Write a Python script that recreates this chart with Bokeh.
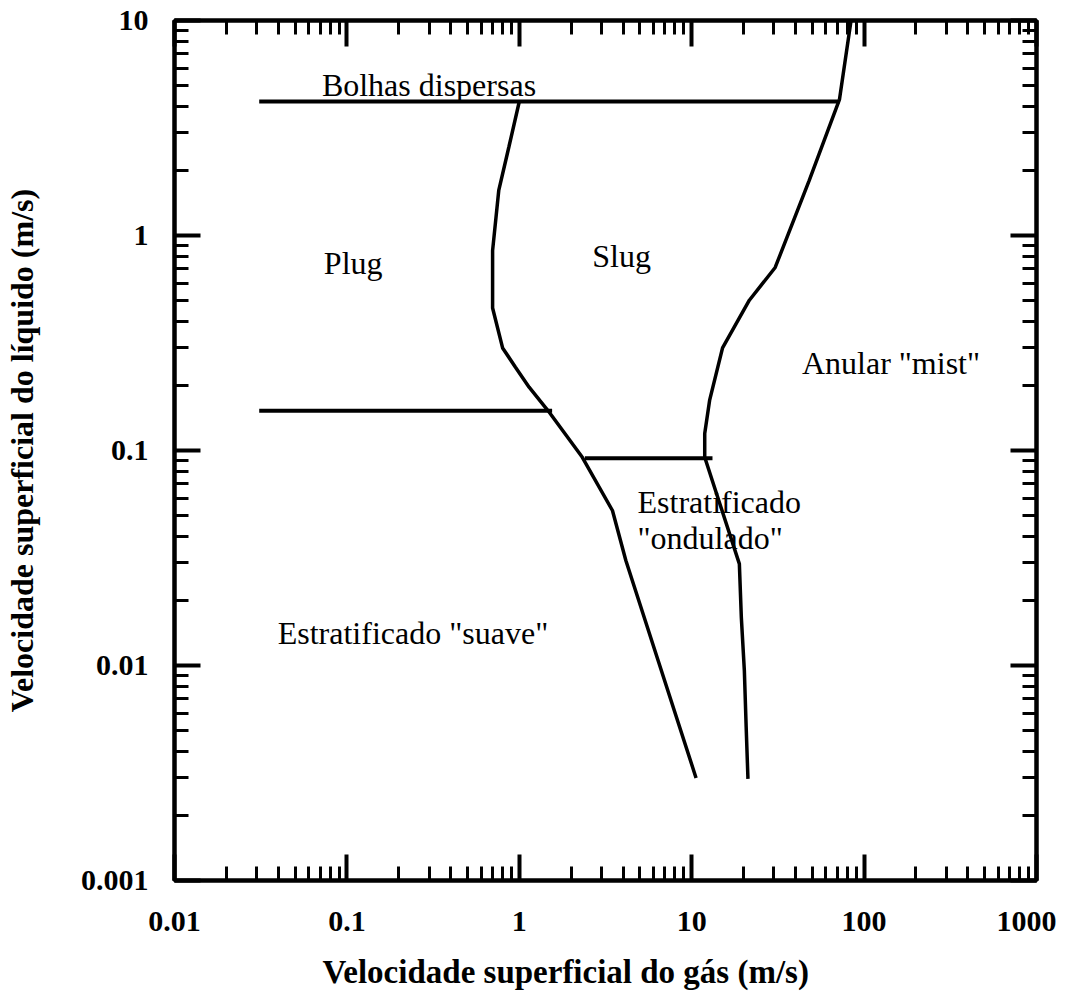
from bokeh.plotting import figure
from bokeh.models import LogAxis, FixedTicker, CustomJSTickFormatter, Title, Range1d
from bokeh.core.properties import value
from bokeh.embed import file_html
from bokeh.resources import INLINE

# ---- axes ----
x_ticks = [0.01, 0.1, 1, 10, 100, 1000]
x_tick_labels = ["0.01", "0.1", "1", "10", "100", "1000"]
y_ticks = [0.001, 0.01, 0.1, 1, 10]
y_tick_labels = ["0.001", "0.01", "0.1", "1", "10"]
x_minor = [0.02, 0.03, 0.04, 0.05, 0.06, 0.07, 0.08, 0.09,
           0.2, 0.3, 0.4, 0.5, 0.6, 0.7, 0.8, 0.9,
           2, 3, 4, 5, 6, 7, 8, 9,
           20, 30, 40, 50, 60, 70, 80, 90,
           200, 300, 400, 500, 600, 700, 800, 900]
y_minor = [0.002, 0.003, 0.004, 0.005, 0.006, 0.007, 0.008, 0.009,
           0.02, 0.03, 0.04, 0.05, 0.06, 0.07, 0.08, 0.09,
           0.2, 0.3, 0.4, 0.5, 0.6, 0.7, 0.8, 0.9,
           2, 3, 4, 5, 6, 7, 8, 9]

x_title = "Velocidade superficial do gás (m/s)"
y_title = "Velocidade superficial do líquido (m/s)"

# ---- boundaries (superficial gas velocity, superficial liquid velocity) ----
left_x = [1.0, 0.87, 0.76, 0.70, 0.70, 0.80, 0.95, 1.14, 1.47, 2.32, 3.47, 4.15, 6.4, 10.6]
left_y = [4.2, 2.58, 1.62, 0.85, 0.46, 0.30, 0.244, 0.197, 0.153, 0.093, 0.0526, 0.0308, 0.0105, 0.0030]

right_x = [84, 72, 48, 30.5, 21.6, 15.1, 12.7, 11.9, 11.9, 18.9, 19.4, 20.2, 20.7, 21.2]
right_y = [10, 4.3, 1.80, 0.71, 0.50, 0.30, 0.171, 0.120, 0.093, 0.0297, 0.0168, 0.0095, 0.00516, 0.00297]

bubble_x = [0.031, 72]
bubble_y = [4.2, 4.2]

plug_x = [0.031, 1.55]
plug_y = [0.153, 0.153]

wavy_x = [2.4, 13.2]
wavy_y = [0.092, 0.092]

# ---- region labels ----
label_text = ["Bolhas dispersas", "Plug", "Slug", "Anular \"mist\"",
              "Estratificado", "\"ondulado\"", "Estratificado \"suave\""]
label_x = [0.0716, 0.0735, 2.65, 43.6, 4.85, 4.85, 0.0397]
label_y = [4.99, 0.748, 0.807, 0.254, 0.0573, 0.039, 0.01422]

SERIF = "Liberation Serif"

p = figure(x_axis_type="log", y_axis_type="log",
           x_range=Range1d(0.01, 1000), y_range=Range1d(0.001, 10),
           frame_width=862, frame_height=860,
           min_border_left=173, min_border_right=20, min_border_top=20, min_border_bottom=10,
           output_backend="svg", toolbar_location=None, title=None)
p.background_fill_color = "white"
p.border_fill_color = "white"
p.xgrid.visible = False
p.ygrid.visible = False
p.outline_line_color = "black"
p.outline_line_width = 4


def style_axis(ax, ticks, minor, labels, show):
    ax.ticker = FixedTicker(ticks=ticks, minor_ticks=minor)
    if show:
        mapping = {str(t): l for t, l in zip(ticks, labels)}
        ax.formatter = CustomJSTickFormatter(args=dict(labels=mapping),
                                             code="const k = tick.toString(); return (k in labels) ? labels[k] : k;")
        ax.major_label_text_font = SERIF
        ax.major_label_text_font_style = "bold"
        ax.major_label_text_font_size = "30px"
        ax.major_label_text_color = "black"
    else:
        ax.formatter = CustomJSTickFormatter(code="return '';")
        ax.major_label_text_font_size = "0px"
        ax.major_label_standoff = 0
    ax.axis_line_width = 4
    ax.axis_line_color = "black"
    ax.major_tick_in = 26
    ax.major_tick_out = 0
    ax.minor_tick_in = 14
    ax.minor_tick_out = 0
    ax.major_tick_line_width = 4
    ax.minor_tick_line_width = 3
    ax.major_tick_line_color = "black"
    ax.minor_tick_line_color = "black"


xa = p.xaxis[0]
ya = p.yaxis[0]
style_axis(xa, x_ticks, x_minor, x_tick_labels, True)
style_axis(ya, y_ticks, y_minor, y_tick_labels, True)
xa.major_label_standoff = 31
ya.major_label_standoff = 26

ya.axis_label = y_title
ya.axis_label_text_font = SERIF
ya.axis_label_text_font_style = "bold"
ya.axis_label_text_font_size = "32px"
ya.axis_label_text_color = "black"
ya.axis_label_standoff = 38

top = LogAxis()
style_axis(top, x_ticks, x_minor, x_tick_labels, False)
p.add_layout(top, "above")
right = LogAxis()
style_axis(right, y_ticks, y_minor, y_tick_labels, False)
p.add_layout(right, "right")

xt = Title(text=x_title, align="left", offset=148, text_font=SERIF,
           text_font_size="33px", text_font_style="bold", text_color="black",
           standoff=37)
p.add_layout(xt, "below")

LW = 3.5
p.line(left_x, left_y, line_width=LW, line_color="black")
p.line(right_x, right_y, line_width=LW, line_color="black")
p.line(bubble_x, bubble_y, line_width=4, line_color="black")
p.line(plug_x, plug_y, line_width=4, line_color="black")
p.line(wavy_x, wavy_y, line_width=4, line_color="black")

p.text(x=label_x, y=label_y, text=label_text, text_font=value(SERIF),
       text_font_size="32px", text_color="black",
       text_align="left", text_baseline="alphabetic")

open("out.html", "w").write(file_html(p, INLINE))
